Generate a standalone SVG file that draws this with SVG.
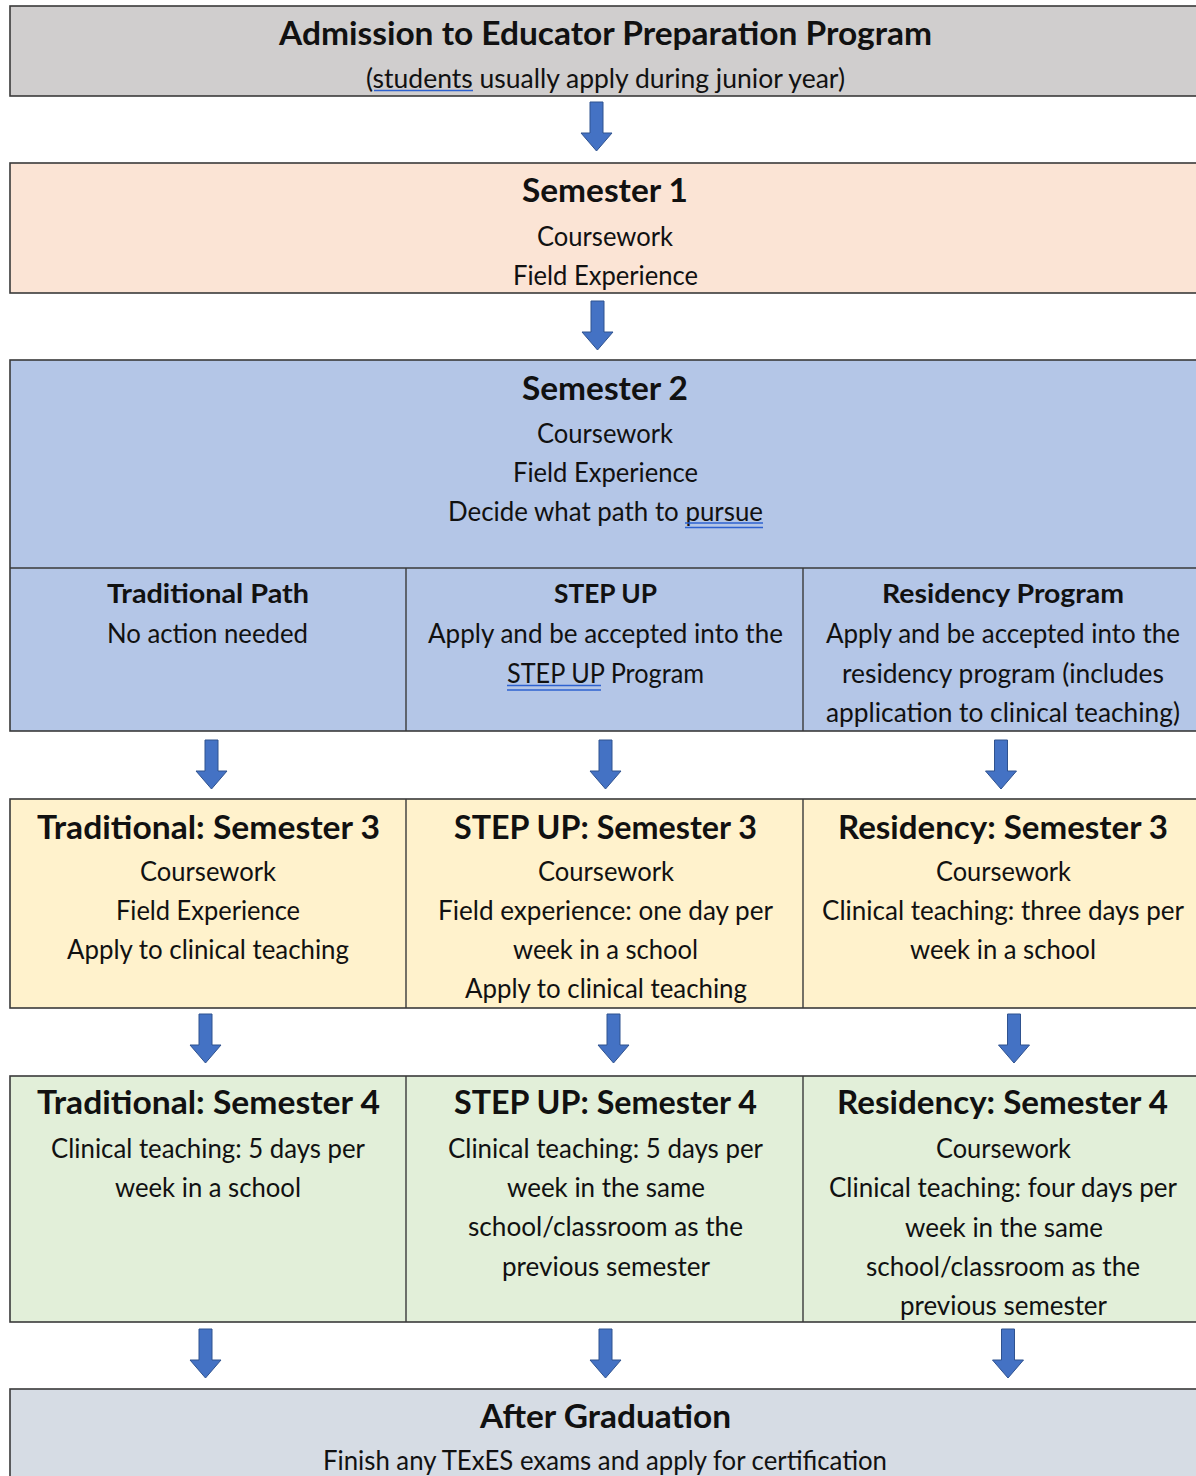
<svg xmlns="http://www.w3.org/2000/svg" width="1196" height="1476" viewBox="0 0 1196 1476">
  <style>
    .box { stroke: #3a3a3a; stroke-width: 1.6; }
    .grid { stroke: #3a3a3a; stroke-width: 1.4; fill: none; }
    text { font-family: Lato, "Open Sans", "Liberation Sans", sans-serif; fill: #111; text-anchor: middle; }
    .h1 { font-size: 33px; font-weight: 700; }
    .h2 { font-size: 26px; font-weight: 700; }
    .t { font-size: 26px; font-weight: 400; }
    .ul { stroke: #2e62d0; stroke-width: 1.4; }
    .arrow { fill: #4472c4; stroke: #2f528f; stroke-width: 1; }
  </style>
  <defs>
    <!-- down arrow: origin at top centre of the shaft -->
    <path id="down" d="M -6.5 0 H 6.5 V 31 H 15.5 L 0 49 L -15.5 31 H -6.5 Z"/>
  </defs>

  <rect width="1196" height="1476" fill="#ffffff"/>

  <!-- Admission -->
  <g id="admission">
    <rect class="box" x="10" y="6" width="1200" height="90" fill="#d0cece"/>
    <text class="h1" x="605.5" y="45" textLength="653" lengthAdjust="spacingAndGlyphs">Admission to Educator Preparation Program</text>
    <text class="t" x="605.5" y="88" textLength="479" lengthAdjust="spacingAndGlyphs">(students usually apply during junior year)</text>
    <line class="ul" x1="374" y1="90.5" x2="473" y2="90.5"/>
  </g>

  <!-- Semester 1 -->
  <g id="semester1">
    <rect class="box" x="10" y="163" width="1200" height="130" fill="#fbe4d5"/>
    <text class="h1" x="605" y="202" textLength="166" lengthAdjust="spacingAndGlyphs">Semester 1</text>
    <text class="t" x="605" y="246" textLength="136" lengthAdjust="spacingAndGlyphs">Coursework</text>
    <text class="t" x="605.5" y="285" textLength="185" lengthAdjust="spacingAndGlyphs">Field Experience</text>
  </g>

  <!-- Semester 2 with the three path choices -->
  <g id="semester2">
    <rect class="box" x="10" y="360" width="1200" height="371" fill="#b4c6e7"/>
    <line class="grid" x1="10" y1="568" x2="1200" y2="568"/>
    <line class="grid" x1="406" y1="568" x2="406" y2="731"/>
    <line class="grid" x1="803" y1="568" x2="803" y2="731"/>
    <text class="h1" x="605" y="400" textLength="166" lengthAdjust="spacingAndGlyphs">Semester 2</text>
    <text class="t" x="605" y="443" textLength="136" lengthAdjust="spacingAndGlyphs">Coursework</text>
    <text class="t" x="605.5" y="482" textLength="185" lengthAdjust="spacingAndGlyphs">Field Experience</text>
    <text class="t" x="605.5" y="521" textLength="315" lengthAdjust="spacingAndGlyphs">Decide what path to pursue</text>
    <line class="ul" x1="685" y1="523" x2="763" y2="523"/>
    <line class="ul" x1="685" y1="527.5" x2="763" y2="527.5"/>
  </g>

  <g id="traditional-path">
    <text class="h2" x="208" y="603" textLength="202" lengthAdjust="spacingAndGlyphs">Traditional Path</text>
    <text class="t" x="207.5" y="643" textLength="201" lengthAdjust="spacingAndGlyphs">No action needed</text>
  </g>

  <g id="stepup-path">
    <text class="h2" x="605.5" y="603" textLength="103" lengthAdjust="spacingAndGlyphs">STEP UP</text>
    <text class="t" x="605.5" y="643" textLength="355" lengthAdjust="spacingAndGlyphs">Apply and be accepted into the</text>
    <text class="t" x="605.5" y="683" textLength="197" lengthAdjust="spacingAndGlyphs">STEP UP Program</text>
    <line class="ul" x1="507" y1="685.5" x2="601" y2="685.5"/>
    <line class="ul" x1="507" y1="690" x2="601" y2="690"/>
  </g>

  <g id="residency-path">
    <text class="h2" x="1003" y="603" textLength="242" lengthAdjust="spacingAndGlyphs">Residency Program</text>
    <text class="t" x="1003" y="643" textLength="354" lengthAdjust="spacingAndGlyphs">Apply and be accepted into the</text>
    <text class="t" x="1003" y="683" textLength="322" lengthAdjust="spacingAndGlyphs">residency program (includes</text>
    <text class="t" x="1003" y="722" textLength="354" lengthAdjust="spacingAndGlyphs">application to clinical teaching)</text>
  </g>

  <!-- Semester 3 row -->
  <rect class="box" x="10" y="799" width="1200" height="209" fill="#fff2cc"/>
  <line class="grid" x1="406" y1="799" x2="406" y2="1008"/>
  <line class="grid" x1="803" y1="799" x2="803" y2="1008"/>

  <g id="traditional-sem3">
    <text class="h1" x="208.5" y="839" textLength="343" lengthAdjust="spacingAndGlyphs">Traditional: Semester 3</text>
    <text class="t" x="208" y="881" textLength="136" lengthAdjust="spacingAndGlyphs">Coursework</text>
    <text class="t" x="208" y="920" textLength="184" lengthAdjust="spacingAndGlyphs">Field Experience</text>
    <text class="t" x="208" y="959" textLength="282" lengthAdjust="spacingAndGlyphs">Apply to clinical teaching</text>
  </g>

  <g id="stepup-sem3">
    <text class="h1" x="605.5" y="839" textLength="303" lengthAdjust="spacingAndGlyphs">STEP UP: Semester 3</text>
    <text class="t" x="606" y="881" textLength="136" lengthAdjust="spacingAndGlyphs">Coursework</text>
    <text class="t" x="605.5" y="920" textLength="335" lengthAdjust="spacingAndGlyphs">Field experience: one day per</text>
    <text class="t" x="605.5" y="959" textLength="185" lengthAdjust="spacingAndGlyphs">week in a school</text>
    <text class="t" x="606" y="998" textLength="282" lengthAdjust="spacingAndGlyphs">Apply to clinical teaching</text>
  </g>

  <g id="residency-sem3">
    <text class="h1" x="1003" y="839" textLength="330" lengthAdjust="spacingAndGlyphs">Residency: Semester 3</text>
    <text class="t" x="1003.5" y="881" textLength="135" lengthAdjust="spacingAndGlyphs">Coursework</text>
    <text class="t" x="1003" y="920" textLength="362" lengthAdjust="spacingAndGlyphs">Clinical teaching: three days per</text>
    <text class="t" x="1003" y="959" textLength="186" lengthAdjust="spacingAndGlyphs">week in a school</text>
  </g>

  <!-- Semester 4 row -->
  <rect class="box" x="10" y="1076" width="1200" height="246" fill="#e2efd9"/>
  <line class="grid" x1="406" y1="1076" x2="406" y2="1322"/>
  <line class="grid" x1="803" y1="1076" x2="803" y2="1322"/>

  <g id="traditional-sem4">
    <text class="h1" x="208.5" y="1114" textLength="343" lengthAdjust="spacingAndGlyphs">Traditional: Semester 4</text>
    <text class="t" x="208" y="1158" textLength="314" lengthAdjust="spacingAndGlyphs">Clinical teaching: 5 days per</text>
    <text class="t" x="208" y="1197" textLength="186" lengthAdjust="spacingAndGlyphs">week in a school</text>
  </g>

  <g id="stepup-sem4">
    <text class="h1" x="605.5" y="1114" textLength="303" lengthAdjust="spacingAndGlyphs">STEP UP: Semester 4</text>
    <text class="t" x="605.5" y="1158" textLength="315" lengthAdjust="spacingAndGlyphs">Clinical teaching: 5 days per</text>
    <text class="t" x="606" y="1197" textLength="198" lengthAdjust="spacingAndGlyphs">week in the same</text>
    <text class="t" x="605.5" y="1236" textLength="275" lengthAdjust="spacingAndGlyphs">school/classroom as the</text>
    <text class="t" x="606" y="1276" textLength="208" lengthAdjust="spacingAndGlyphs">previous semester</text>
  </g>

  <g id="residency-sem4">
    <text class="h1" x="1002.5" y="1114" textLength="331" lengthAdjust="spacingAndGlyphs">Residency: Semester 4</text>
    <text class="t" x="1003.5" y="1158" textLength="135" lengthAdjust="spacingAndGlyphs">Coursework</text>
    <text class="t" x="1003" y="1197" textLength="348" lengthAdjust="spacingAndGlyphs">Clinical teaching: four days per</text>
    <text class="t" x="1004" y="1237" textLength="198" lengthAdjust="spacingAndGlyphs">week in the same</text>
    <text class="t" x="1003" y="1276" textLength="274" lengthAdjust="spacingAndGlyphs">school/classroom as the</text>
    <text class="t" x="1003.5" y="1315" textLength="207" lengthAdjust="spacingAndGlyphs">previous semester</text>
  </g>

  <!-- After graduation -->
  <g id="after-graduation">
    <rect class="box" x="10" y="1389" width="1200" height="100" fill="#d6dce4"/>
    <text class="h1" x="605.5" y="1428" textLength="251" lengthAdjust="spacingAndGlyphs">After Graduation</text>
    <text class="t" x="605" y="1470" textLength="564" lengthAdjust="spacingAndGlyphs">Finish any TExES exams and apply for certification</text>
  </g>

  <!-- Connectors -->
  <g id="connectors" class="arrow">
    <use href="#down" x="596.5" y="102"/>
    <use href="#down" x="597.5" y="301"/>
    <use href="#down" x="211.5" y="740"/>
    <use href="#down" x="605.5" y="740"/>
    <use href="#down" x="1001" y="740"/>
    <use href="#down" x="205.5" y="1014"/>
    <use href="#down" x="613.5" y="1014"/>
    <use href="#down" x="1014" y="1014"/>
    <use href="#down" x="205.5" y="1329"/>
    <use href="#down" x="605.5" y="1329"/>
    <use href="#down" x="1008" y="1329"/>
  </g>
</svg>
